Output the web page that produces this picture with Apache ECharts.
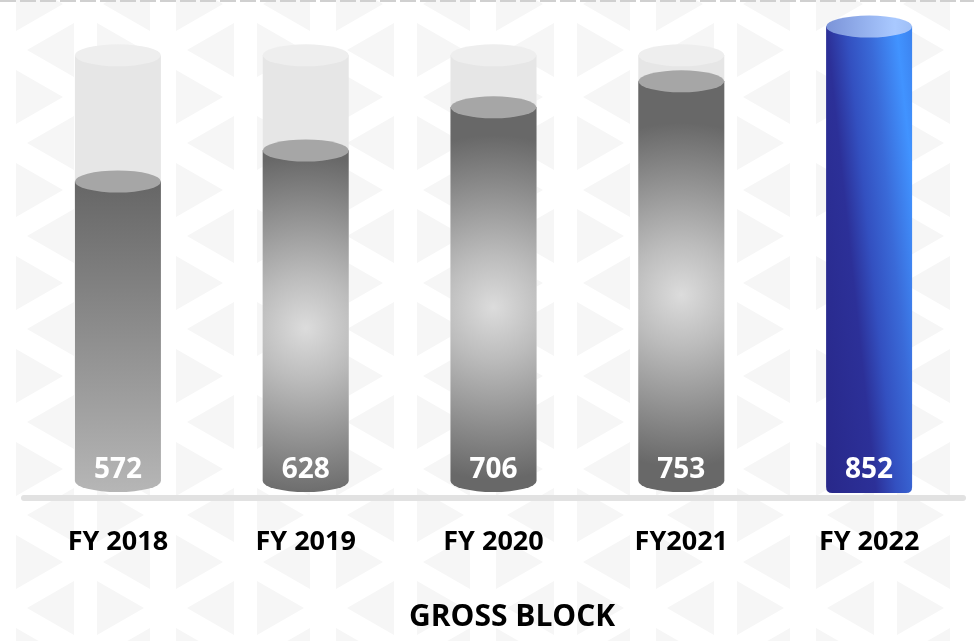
<!DOCTYPE html>
<html>
<head>
<meta charset="utf-8">
<script src="https://cdn.jsdelivr.net/npm/echarts@6/dist/echarts.min.js"></script>
<style>
html, body { margin: 0; padding: 0; background: #fff; }
#main { width: 974px; height: 641px; background-repeat: no-repeat; }
</style>
</head>
<body>
<div id="main"></div>
<script>
var years = ['FY 2018', 'FY 2019', 'FY 2020', 'FY2021', 'FY 2022'];
var grossBlock = [572, 628, 706, 753, 852];
var trackValues = [800, 800, 800, 800, 800];

// fill kind per bar (style only)
var barKinds = ['linear', 'radial', 'radial', 'radial', 'blue'];

function drawPattern() {
    var c = document.createElement('canvas');
    c.width = 974; c.height = 641;
    var ctx = c.getContext('2d');
    ctx.fillStyle = '#f6f6f6';
    var h = 54, w = 47;
    function tri(bx, cy, dir) {
        ctx.beginPath();
        ctx.moveTo(bx, cy - h / 2);
        ctx.lineTo(bx, cy + h / 2);
        ctx.lineTo(bx + dir * w, cy);
        ctx.closePath();
        ctx.fill();
    }
    for (var k = -1; k < 8; k++) {
        var ya = 97 + 93 * k, yb = 50 + 93 * k;
        for (var j = -1; j < 8; j++) {
            var x0 = 160 * j;
            tri(x0 + 16, ya, 1);
            tri(x0 + 150, ya, -1);
            tri(x0 + 74, yb, -1);
            tri(x0 + 97, yb, 1);
        }
    }
    return c.toDataURL();
}

function ellipsePath(cx, cy, rx, ry) {
    return 'M' + (cx - rx) + ',' + cy +
        ' A' + rx + ' ' + ry + ' 0 1 0 ' + (cx + rx) + ',' + cy +
        ' A' + rx + ' ' + ry + ' 0 1 0 ' + (cx - rx) + ',' + cy + ' Z';
}

function bodyPath(l, r, top, bottom, rx, ry) {
    return 'M' + l + ',' + top + ' L' + r + ',' + top + ' L' + r + ',' + bottom +
        ' A' + rx + ' ' + ry + ' 0 0 1 ' + l + ',' + bottom + ' Z';
}

function blueBodyPath(l, r, top, bottom) {
    var rr = 6;
    return 'M' + l + ',' + top + ' L' + r + ',' + top + ' L' + r + ',' + (bottom - rr) +
        ' Q' + r + ',' + bottom + ' ' + (r - rr) + ',' + bottom +
        ' L' + (l + rr) + ',' + bottom +
        ' Q' + l + ',' + bottom + ' ' + l + ',' + (bottom - rr) + ' Z';
}

function bodyFill(kind, l, top) {
    if (kind == 'linear') {
        return { type: 'linear', x: 0, y: 0, x2: 0, y2: 1, colorStops: [
            { offset: 0, color: '#666666' },
            { offset: 0.5, color: '#8e8e8e' },
            { offset: 1, color: '#b6b6b6' }
        ] };
    }
    if (kind == 'radial') {
        return { type: 'radial', x: 0.5, y: 0.52, r: 2, colorStops: [
            { offset: 0, color: '#dcdcdc' },
            { offset: 0.3, color: '#bcbcbc' },
            { offset: 1, color: '#686868' }
        ] };
    }
    // blue: nearly horizontal, slightly tilted gradient
    return { type: 'linear', global: true,
        x: l - 47.7, y: top + 5.1, x2: l + 85.5, y2: top - 9.1,
        colorStops: [
            { offset: 0, color: '#28288a' },
            { offset: 0.36, color: '#2c3098' },
            { offset: 0.51, color: '#3350c0' },
            { offset: 0.68, color: '#3a6ad8' },
            { offset: 0.88, color: '#4193ff' },
            { offset: 1, color: '#3c82ee' }
        ] };
}

function renderCylinder(params, api) {
    var i = api.value(0);
    var val = api.value(1);
    var top = api.coord([i, val]);
    var trackTop = api.coord([i, api.value(2)]);
    var zero = api.coord([i, 0]);
    var rx = 43, ry = 11;
    var cx = top[0];
    var l = cx - rx, r = cx + rx;
    var bottom = zero[1] - 17;
    var kind = barKinds[params.dataIndex];
    var children = [];

    if (kind != 'blue') {
        children.push({ type: 'rect', shape: { x: l, y: trackTop[1], width: rx * 2, height: bottom - trackTop[1] },
            style: { fill: '#e6e6e6' } });
        children.push({ type: 'path', shape: { pathData: ellipsePath(cx, trackTop[1], rx, ry) },
            style: { fill: '#eeeeee' } });
        children.push({ type: 'path', shape: { pathData: bodyPath(l, r, top[1], bottom, rx, ry) },
            style: { fill: bodyFill(kind, l, top[1]) } });
        children.push({ type: 'path', shape: { pathData: ellipsePath(cx, top[1], rx, ry) },
            style: { fill: '#a6a6a6' } });
    } else {
        children.push({ type: 'path', shape: { pathData: blueBodyPath(l, r, top[1], bottom + 12) },
            style: { fill: bodyFill(kind, l, top[1]) } });
        children.push({ type: 'path', shape: { pathData: ellipsePath(cx, top[1], rx, ry) },
            style: { fill: { type: 'linear', x: 0, y: 0, x2: 1, y2: 0, colorStops: [
                { offset: 0, color: '#7b93d8' },
                { offset: 0.8, color: '#a9c9ff' },
                { offset: 1, color: '#9fbff6' }
            ] } } });
    }
    children.push({ type: 'text', style: {
        text: String(val), x: cx, y: bottom - 11,
        fill: '#ffffff', fontSize: 28, fontWeight: 'bold', fontFamily: 'Open Sans',
        align: 'center', verticalAlign: 'middle'
    } });
    return { type: 'group', children: children };
}

var seriesData = [];
for (var n = 0; n < years.length; n++) {
    seriesData.push([n, grossBlock[n], trackValues[n]]);
}

document.getElementById('main').style.backgroundImage = 'url(' + drawPattern() + ')';

var chart = echarts.init(document.getElementById('main'));
chart.setOption({
    backgroundColor: 'transparent',
    animation: false,
    title: {
        text: 'GROSS BLOCK',
        left: 404,
        top: 597,
        textStyle: { fontSize: 30, fontWeight: 'bold', color: '#000', fontFamily: 'Open Sans' }
    },
    graphic: [{
        type: 'line',
        shape: { x1: 0, y1: 1, x2: 974, y2: 1 },
        style: { stroke: '#d0d0d0', lineWidth: 2, lineDash: [16, 4] }
    }],
    grid: { left: 24, right: 11, top: 0, bottom: 143, outerBoundsMode: 'none' },
    xAxis: {
        type: 'category',
        data: years,
        axisLine: { lineStyle: { color: '#e2e2e2', width: 6 } },
        axisTick: { show: false },
        axisLabel: { color: '#000', fontSize: 27, fontWeight: 'bold', fontFamily: 'Open Sans', margin: 31 }
    },
    yAxis: { type: 'value', min: 0, max: 900, show: false, splitLine: { show: false } },
    series: [{
        type: 'custom',
        renderItem: renderCylinder,
        encode: { x: 0, y: 1 },
        data: seriesData,
        clip: false
    }]
});
</script>
</body>
</html>
